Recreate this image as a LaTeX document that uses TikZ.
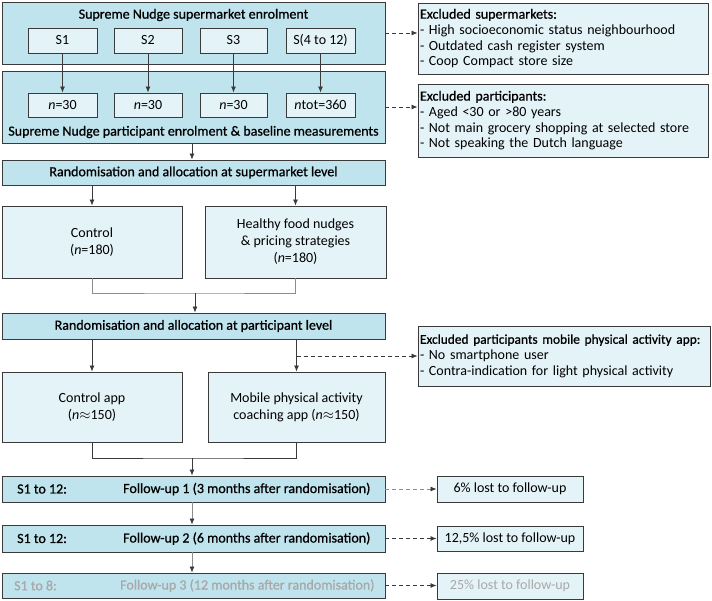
\documentclass[tikz,border=0pt]{standalone}
\usepackage{fontspec}
\setmainfont{Carlito}
\newfontfamily\medfont[FakeBold=0.8]{Carlito}
\usetikzlibrary{arrows.meta}

\definecolor{hdrblue}{HTML}{C0E4EE}
\definecolor{boxblue}{HTML}{E4F3F8}
\definecolor{lnline}{HTML}{3A3A3A}
\definecolor{greyline}{HTML}{8C8C8C}
\definecolor{fadetext}{HTML}{A8A8A8}

\tikzset{
  hdr/.style={draw=lnline, fill=hdrblue, line width=0.9pt, inner sep=0pt, font=\fontsize{14}{16}\medfont},
  sbox/.style={draw=lnline, fill=boxblue, line width=0.9pt, inner sep=0pt, align=center, font=\fontsize{14}{17}\selectfont},
  excl/.style={draw=lnline, fill=boxblue, line width=0.9pt, inner xsep=2pt, inner ysep=2pt, align=left, text width=286pt},
  arr/.style={-{Latex[length=6pt,width=5pt]}, line width=0.8pt, draw=lnline},
  garr/.style={arr, draw=greyline, -{Latex[length=6pt,width=5pt,color=lnline]}},
  darr/.style={arr, dash pattern=on 4pt off 3pt},
  lbl/.style={anchor=west, inner sep=0pt, font=\fontsize{14}{16}\medfont},
}

\begin{document}
\begin{tikzpicture}[x=1pt, y=-1pt, font=\fontsize{14}{15.7}\selectfont]
\useasboundingbox (0,0) rectangle (712,600);

% supermarkets
\node[hdr, minimum width=383pt, minimum height=62pt] (enrol) at (193.5,33) {};
\node[font=\fontsize{14}{16}\medfont] (enroltxt) at (193.5,15) {Supreme Nudge supermarket enrolment};
\node[sbox, minimum width=69pt, minimum height=25pt] (s1) at (62.5,40.5) {S1};
\node[sbox, minimum width=68pt, minimum height=25pt] (s2) at (148,40.5) {S2};
\node[sbox, minimum width=67pt, minimum height=25pt] (s3) at (233.5,40.5) {S3};
\node[sbox, minimum width=69pt, minimum height=25pt] (s4) at (320.5,40.5) {S(4 to 12)};

% participants
\node[hdr, minimum width=383pt, minimum height=72pt] (base) at (193.5,107) {};
\node[font=\fontsize{14}{16}\medfont] (basetxt) at (193.5,132) {Supreme Nudge participant enrolment \& baseline measurements};
\node[sbox, minimum width=69pt, minimum height=24pt] (n1) at (62.5,105) {\textit{n}=30};
\node[sbox, minimum width=68pt, minimum height=24pt] (n2) at (148,105) {\textit{n}=30};
\node[sbox, minimum width=67pt, minimum height=24pt] (n3) at (233.5,105) {\textit{n}=30};
\node[sbox, minimum width=69pt, minimum height=24pt] (n4) at (320.5,105) {\textit{n}tot=360};

\draw[arr] (s1) -- (n1);
\draw[arr] (s2) -- (n2);
\draw[arr] (s3) -- (n3);
\draw[arr] (s4) -- (n4);

% exclusions
\node[excl, minimum height=71pt] (excl1) at (563,38.5) {{\medfont Excluded supermarkets:}\\- High socioeconomic status neighbourhood\\- Outdated cash register system\\- Coop Compact store size};
\node[excl, minimum height=73pt] (excl2) at (563,120.5) {{\medfont Excluded participants:}\\- Aged <30 or >80 years\\- Not main grocery shopping at selected store\\- Not speaking the Dutch language};
\draw[darr] (enrol.east) -- (enrol.east -| excl1.west);
\draw[darr] (base.east) -- (base.east -| excl2.west);

% supermarket level
\node[hdr, minimum width=383pt, minimum height=25pt] (rand1) at (193.5,172.5) {Randomisation and allocation at supermarket level};
\draw[arr] (base.south -| 192,0) -- (rand1.north -| 192,0);
\node[sbox, minimum width=180pt, minimum height=72pt] (control) at (92,242) {Control\\(\textit{n}=180)};
\node[sbox, minimum width=181pt, minimum height=72pt] (healthy) at (295.5,242) {Healthy food nudges\\\& pricing strategies\\(\textit{n}=180)};
\draw[arr] (rand1.south -| control) -- (control.north);
\draw[arr] (rand1.south -| healthy) -- (healthy.north);

% participant level
\node[hdr, minimum width=383pt, minimum height=26pt] (rand2) at (193.5,326) {Randomisation and allocation at participant level};
\coordinate (join1) at (195,293);
\draw[greyline, line width=0.8pt] (control.south) |- (join1) -| (healthy.south);
\draw[arr] (join1) -- (join1 |- rand2.north);

\node[sbox, minimum width=180pt, minimum height=70pt] (ctrlapp) at (92,407) {Control app\\(\textit{n}$\approx$150)};
\node[sbox, minimum width=177pt, minimum height=70pt] (mobile) at (296.5,407) {Mobile physical activity\\coaching app (\textit{n}$\approx$150)};
\draw[arr] (rand2.south -| ctrlapp) -- (ctrlapp.north);
\draw[arr] (rand2.south -| mobile) -- (mobile.north);

\node[excl, minimum height=60pt, text width=288pt] (excl3) at (564,356) {\mbox{\fontsize{13.4}{15.7}\medfont Excluded participants mobile physical activity app:}\\- No smartphone user\\- Contra-indication for light physical activity};
\coordinate (split) at (296.5,356);
\draw[darr] (split) -- (excl3.west);

% follow-up
\node[hdr, minimum width=383pt, minimum height=26pt] (fu1) at (193.5,489) {};
\node[hdr, minimum width=383pt, minimum height=27pt] (fu2) at (193.5,538.5) {};
\node[hdr, minimum width=383pt, minimum height=25pt] (fu3) at (193.5,585.5) {};
\node[lbl] (fu1s) at (17,489) {S1 to 12:};
\node[lbl] (fu1t) at (123,489) {Follow-up 1 (3 months after randomisation)};
\node[lbl] (fu2s) at (17,538.5) {S1 to 12:};
\node[lbl] (fu2t) at (123,538.5) {Follow-up 2 (6 months after randomisation)};
\node[lbl, text=fadetext] (fu3s) at (14,585.5) {S1 to 8:};
\node[lbl, text=fadetext] (fu3t) at (120,585.5) {Follow-up 3 (12 months after randomisation)};

\coordinate (join2) at (192,458);
\draw[line width=0.8pt, draw=lnline] (ctrlapp.south) |- (join2) -| (mobile.south);
\draw[arr] (join2) -- (join2 |- fu1.north);
\draw[garr] (fu1.south -| join2) -- (fu2.north -| join2);
\draw[garr] (fu2.south -| join2) -- (fu3.north -| join2);

\node[sbox, minimum width=146pt, minimum height=26pt] (loss1) at (510,489) {6\% lost to follow-up};
\node[sbox, minimum width=146pt, minimum height=25pt] (loss2) at (510,538.5) {12,5\% lost to follow-up};
\node[sbox, minimum width=146pt, minimum height=26pt, text=fadetext] (loss3) at (510,586) {25\% lost to follow-up};
\draw[darr, draw=greyline, -{Latex[length=6pt,width=5pt,color=lnline]}] (fu1) -- (loss1);
\draw[darr] (fu2) -- (loss2);
\draw[darr] (fu3.east) -- (fu3.east -| loss3.west);

\end{tikzpicture}
\end{document}
